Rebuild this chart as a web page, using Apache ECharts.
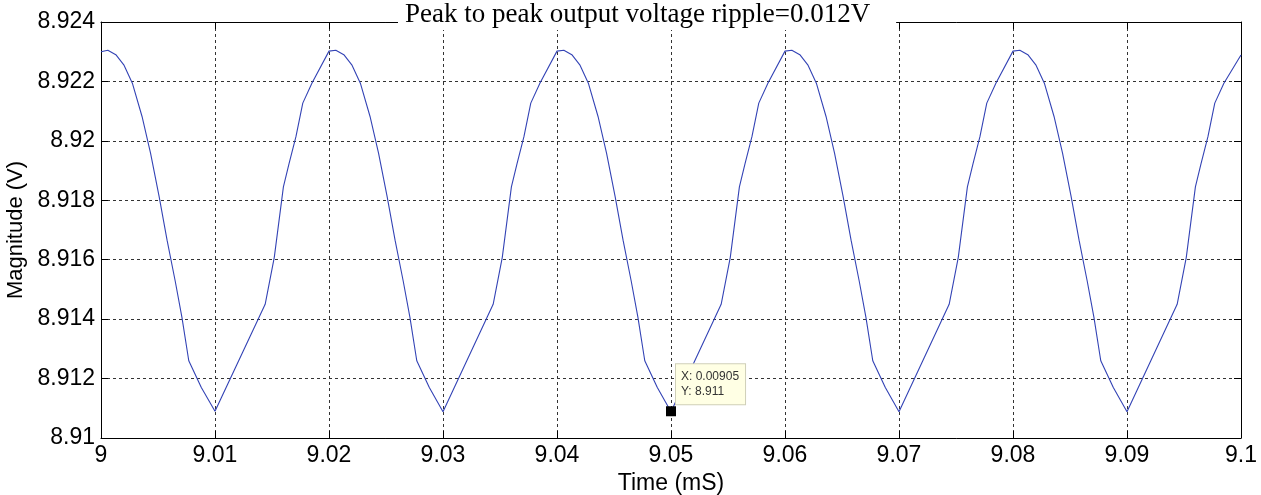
<!DOCTYPE html>
<html>
<head>
    <meta charset="utf-8">
    <title>Output voltage ripple</title>
    <script src="https://cdn.jsdelivr.net/npm/echarts@6/dist/echarts.min.js"></script>
    <style>
        html, body { margin: 0; padding: 0; background: #fff; }
        #main { width: 1261px; height: 495px; }
    </style>
</head>
<body>
    <div id="main"></div>
    <script>
        // time axis (mS) and output voltage (V)
        var timeMs = [
            9.0000, 9.0006, 9.0013, 9.0020, 9.00275, 9.0036, 9.00435, 9.0051, 9.0058, 9.0065, 9.0071, 9.0077, 9.0088, 9.0100, 9.0144, 9.0152, 9.0160, 9.0165, 9.0171, 9.0177, 9.0185,
            9.0200, 9.0206, 9.0213, 9.0220, 9.02275, 9.0236, 9.02435, 9.0251, 9.0258, 9.0265, 9.0271, 9.0277, 9.0288, 9.0300, 9.0344, 9.0352, 9.0360, 9.0365, 9.0371, 9.0377, 9.0385,
            9.0400, 9.0406, 9.0413, 9.0420, 9.04275, 9.0436, 9.04435, 9.0451, 9.0458, 9.0465, 9.0471, 9.0477, 9.0488, 9.0500, 9.0544, 9.0552, 9.0560, 9.0565, 9.0571, 9.0577, 9.0585,
            9.0600, 9.0606, 9.0613, 9.0620, 9.06275, 9.0636, 9.06435, 9.0651, 9.0658, 9.0665, 9.0671, 9.0677, 9.0688, 9.0700, 9.0744, 9.0752, 9.0760, 9.0765, 9.0771, 9.0777, 9.0785,
            9.0800, 9.0806, 9.0813, 9.0820, 9.08275, 9.0836, 9.08435, 9.0851, 9.0858, 9.0865, 9.0871, 9.0877, 9.0888, 9.0900, 9.0944, 9.0952, 9.0960, 9.0965, 9.0971, 9.0977, 9.0985,
            9.1000
        ];
        var voltage = [
            8.92300, 8.92305, 8.92290, 8.92256, 8.92194, 8.92082, 8.91958, 8.91812, 8.91665, 8.91530, 8.91406, 8.91260, 8.91170, 8.91090, 8.91450, 8.91608, 8.91845, 8.91924, 8.92014, 8.92127, 8.92194,
            8.92302, 8.92305, 8.92290, 8.92256, 8.92194, 8.92082, 8.91958, 8.91812, 8.91665, 8.91530, 8.91406, 8.91260, 8.91170, 8.91088, 8.91450, 8.91608, 8.91845, 8.91924, 8.92014, 8.92127, 8.92194,
            8.92302, 8.92305, 8.92290, 8.92256, 8.92194, 8.92082, 8.91958, 8.91812, 8.91665, 8.91530, 8.91406, 8.91260, 8.91170, 8.91088, 8.91450, 8.91608, 8.91845, 8.91924, 8.92014, 8.92127, 8.92194,
            8.92302, 8.92305, 8.92290, 8.92256, 8.92194, 8.92082, 8.91958, 8.91812, 8.91665, 8.91530, 8.91406, 8.91260, 8.91170, 8.91088, 8.91450, 8.91608, 8.91845, 8.91924, 8.92014, 8.92127, 8.92194,
            8.92302, 8.92305, 8.92290, 8.92256, 8.92194, 8.92082, 8.91958, 8.91812, 8.91665, 8.91530, 8.91406, 8.91260, 8.91170, 8.91088, 8.91450, 8.91608, 8.91845, 8.91924, 8.92014, 8.92127, 8.92194,
            8.92289
        ];
        // data tip
        var tipPoint = [9.05, 8.9109];
        var tipText = ['X: 0.00905', 'Y: 8.911'];

        var xTicks = { min: 9, max: 9.1, interval: 0.01 };
        var yTicks = { min: 8.91, max: 8.924, interval: 0.002 };

        var chart = echarts.init(document.getElementById('main'));

        var seriesData = timeMs.map(function (t, i) { return [t, voltage[i]]; });
        var gridDash = { color: '#333', type: [3, 3], width: 1 };
        var tickFont = { fontFamily: 'Liberation Sans, Arial', fontSize: 23, color: '#000' };

        var option = {
            backgroundColor: '#fff',
            animation: false,
            title: {
                text: 'Peak to peak output voltage ripple=0.012V',
                left: 398,
                top: 0,
                padding: [0, 26, 0, 7],
                backgroundColor: '#fff',
                textStyle: {
                    fontFamily: 'Liberation Serif, Times New Roman',
                    fontSize: 27,
                    fontWeight: 'normal',
                    color: '#000',
                    lineHeight: 30
                }
            },
            grid: { left: 101, right: 20, top: 22, bottom: 57, outerBoundsMode: 'none', containLabel: false },
            xAxis: [{
                type: 'value',
                min: xTicks.min, max: xTicks.max, interval: xTicks.interval,
                name: 'Time (mS)',
                nameLocation: 'middle',
                nameGap: 27,
                nameTextStyle: { fontFamily: 'Liberation Sans, Arial', fontSize: 23, color: '#000' },
                axisLine: { show: true, lineStyle: { color: '#000', width: 1 } },
                axisTick: { show: true, inside: true, length: 7, lineStyle: { color: '#000' } },
                axisLabel: Object.assign({
                    margin: 6,
                    formatter: function (v) { return String(parseFloat(v.toFixed(2))); }
                }, tickFont),
                splitLine: { show: true, lineStyle: gridDash }
            }, {
                type: 'value',
                position: 'top',
                min: xTicks.min, max: xTicks.max, interval: xTicks.interval,
                axisLine: { show: true, lineStyle: { color: '#000', width: 1 } },
                axisTick: { show: true, inside: true, length: 7, lineStyle: { color: '#000' } },
                axisLabel: { show: false },
                splitLine: { show: false }
            }],
            yAxis: [{
                type: 'value',
                min: yTicks.min, max: yTicks.max, interval: yTicks.interval,
                name: 'Magnitude (V)',
                nameLocation: 'middle',
                nameGap: 69,
                nameTextStyle: { fontFamily: 'Liberation Sans, Arial', fontSize: 22, color: '#000' },
                axisLine: { show: true, lineStyle: { color: '#000', width: 1 } },
                axisTick: { show: true, inside: true, length: 7, lineStyle: { color: '#000' } },
                axisLabel: Object.assign({
                    margin: 6,
                    formatter: function (v) { return String(parseFloat(v.toFixed(3))); }
                }, tickFont),
                splitLine: { show: true, lineStyle: gridDash }
            }, {
                type: 'value',
                position: 'right',
                min: yTicks.min, max: yTicks.max, interval: yTicks.interval,
                axisLine: { show: true, lineStyle: { color: '#000', width: 1 } },
                axisTick: { show: true, inside: true, length: 7, lineStyle: { color: '#000' } },
                axisLabel: { show: false },
                splitLine: { show: false }
            }],
            series: [{
                type: 'line',
                data: seriesData,
                showSymbol: false,
                smooth: false,
                lineStyle: { color: '#3343b5', width: 1.1 },
                markPoint: {
                    symbol: 'rect',
                    symbolSize: 10,
                    itemStyle: { color: '#000' },
                    data: [{
                        coord: tipPoint,
                        label: {
                            show: true,
                            position: [10, -42],
                            formatter: tipText.join('\n'),
                            fontFamily: 'Liberation Sans, Arial',
                            fontSize: 12,
                            lineHeight: 15,
                            color: '#333',
                            backgroundColor: '#ffffe4',
                            borderColor: '#cfcfb8',
                            borderWidth: 1,
                            padding: [5, 6, 5, 5],
                            align: 'left',
                            verticalAlign: 'top'
                        }
                    }]
                }
            }]
        };

        chart.setOption(option);
    </script>
</body>
</html>
